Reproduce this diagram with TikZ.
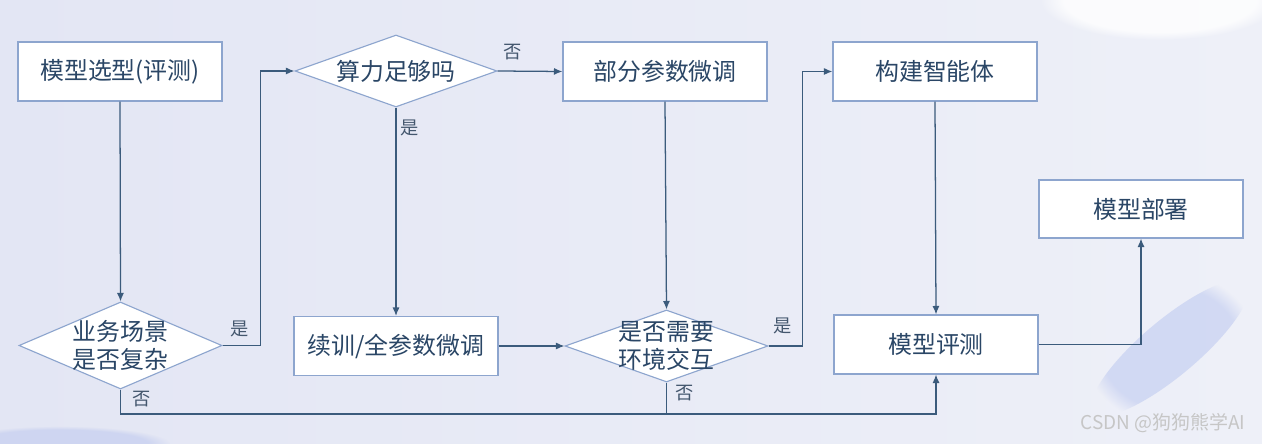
\documentclass[tikz,border=0pt]{standalone}
\usepackage{fontspec}
\setmainfont{Noto Sans CJK SC}
\usetikzlibrary{arrows.meta,shapes.geometric,fadings}
\definecolor{bgA}{HTML}{E3E6F4}
\definecolor{bgB}{HTML}{EEF0F8}
\definecolor{linec}{HTML}{3B5B7C}
\definecolor{borderc}{HTML}{8DA5CE}
\definecolor{txt}{HTML}{2A4666}
\definecolor{blurc}{HTML}{A9B8EC}
\begin{document}
\begin{tikzpicture}[x=0.025cm,y=-0.025cm,
 box/.style={draw=borderc, fill=white, line width=0.8pt, minimum width=5.1cm, minimum height=1.475cm, inner sep=0pt, font=\fontsize{17}{20}\selectfont, text=txt},
 dia/.style={draw=borderc, fill=white, line width=0.8pt, shape=diamond, inner sep=0pt},
 dtext/.style={font=\fontsize{17}{20.5}\selectfont, text=txt, align=center},
 conn/.style={draw=linec, line width=0.9pt},
 arr/.style={conn, -{Latex[length=6pt,width=5pt]}},
 lab/.style={font=\fontsize{13}{15}\selectfont, text=txt!70!gray}
]
\fill[left color=bgA, right color=bgB] (0,0) rectangle (1262,444);
\useasboundingbox (0,0) rectangle (1262,444);
% soft background decorations
\fill[white, opacity=0.8, path fading=circle with fuzzy edge 20 percent] (1160,0) ellipse (120 and 40);
\fill[blurc, opacity=0.4, path fading=circle with fuzzy edge 20 percent, rotate around={40:(1170,348)}] (1170,348) ellipse (100 and 28);
\fill[blurc!60!bgA, opacity=0.6, path fading=circle with fuzzy edge 20 percent] (60,444) ellipse (110 and 18);

% boxes
\node[box] (b1) at (120,71.5) {模型选型(评测)};
\node[box] (b2) at (665,71.5) {部分参数微调};
\node[box] (b3) at (935,71.5) {构建智能体};
\node[box, minimum height=1.45cm] (b5) at (1141,209) {模型部署};
\node[box] (b4) at (396,346) {续训/全参数微调};
\node[box] (b6) at (936,344.5) {模型评测};

% diamonds
\node[dia, minimum width=5.05cm, minimum height=1.8cm] (d2) at (396,71) {};
\node[dtext] (t2) at (d2) {算力足够吗};
\node[dia, minimum width=5.075cm, minimum height=2.175cm] (d1) at (120.5,345.5) {};
\node[dtext] (t1) at (d1) {业务场景\\是否复杂};
\node[dia, minimum width=5.075cm, minimum height=1.8cm] (d3) at (666.5,346) {};
\node[dtext] (t3) at (d3) {是否需要\\环境交互};

\coordinate (bus) at (120.5,414);

% connectors
\draw[arr] (b1.south) -- (d1.north);
\draw[arr] (d1.east) -- ++(38,0) |- (d2.west);
\draw[arr] (d2.east) -- (b2.west);
\draw[arr] (d2.south) -- (b4.north);
\draw[arr] (b4.east) -- (d3.west);
\draw[arr] (b2.south) -- (d3.north);
\draw[arr] (d3.east) -- ++(34,0) |- (b3.west);
\draw[arr] (b3.south) -- (b6.north);
\draw[arr] (b6.east) -| (b5.south);
\draw[arr] (d1.south) -- (bus) -| (b6.south);
\draw[conn] (d3.south) -- (d3.south |- bus);

% labels
\node[lab] (l1) at (240,329) {是};
\node[lab] (l2) at (513,52) {否};
\node[lab] (l3) at (410,128) {是};
\node[lab] (l4) at (783,326) {是};
\node[lab] (l5) at (142,399) {否};
\node[lab] (l6) at (685,393) {否};

% watermark
\node[font=\fontsize{13.5}{15}\selectfont, text=gray!45] (wm) at (1163,423) {CSDN @狗狗熊学AI};
\end{tikzpicture}
\end{document}
